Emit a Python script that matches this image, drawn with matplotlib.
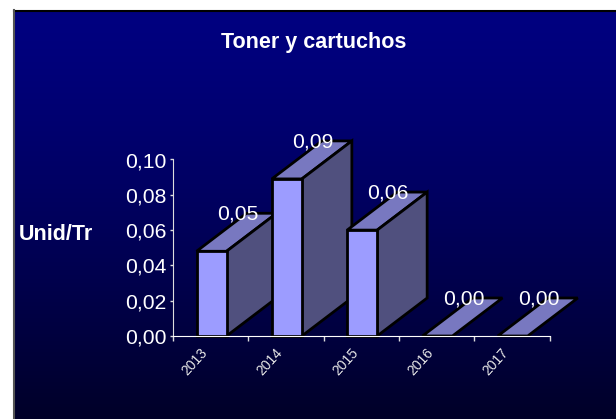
import numpy as np
import matplotlib
matplotlib.use('Agg')
import matplotlib.pyplot as plt
from matplotlib.patches import Polygon

plt.rcParams['font.family'] = ['Liberation Sans', 'DejaVu Sans']

# Data
years = ['2013', '2014', '2015', '2016', '2017']
heights = [0.048, 0.089, 0.06, 0.0, 0.0]
labels = ['0,05', '0,09', '0,06', '0,00', '0,00']
yticks = [0.0, 0.02, 0.04, 0.06, 0.08, 0.10]

W, H = 616, 419
fig = plt.figure(figsize=(W / 100, H / 100), dpi=100, facecolor='white')

# slide background: gradient running off the right and bottom edges
bg = fig.add_axes([0, 0, 1, 1], zorder=0)
bg.axis('off')
grad = np.linspace(0, 1, 256).reshape(-1, 1)
colors = np.zeros((256, 1, 3))
colors[:, :, 2] = (128 - 88 * grad ** 1.3) / 255
bg.imshow(colors, extent=(14, W, H, 11), aspect='auto', interpolation='bilinear')
bg.set_xlim(0, W)
bg.set_ylim(H, 0)
bg.plot([14, W], [11, 11], color='black', lw=1.5)
bg.plot([14, 14], [10.5, H], color='#555555', lw=1.5)

# chart axes placed on the pixel position of the plot
x0, x1, ytop, ybot = 173, 549.5, 159.5, 336
ax = fig.add_axes([x0 / W, 1 - ybot / H, (x1 - x0) / W, (ybot - ytop) / H], zorder=1)
ax.patch.set_alpha(0)
ax.set_xlim(0, 5)
ax.set_ylim(0, 0.10)

bar_w = 30 / 75.3
depth_x = 50 / 75.3
depth_y = 38 / 176.5 * 0.10

# draw the 3D boxes back to front so each bar overlaps the one before
for i, (h, lab) in enumerate(zip(heights, labels)):
    left = i + 0.5 - bar_w / 2 + 0.012
    right = left + bar_w
    style = dict(edgecolor='black', lw=2, joinstyle='miter', clip_on=False, zorder=3 + i)
    ax.add_patch(Polygon([(left, h), (right, h), (right + depth_x, h + depth_y), (left + depth_x, h + depth_y)],
                         facecolor='#7878c0', **style))
    if h > 0:
        ax.add_patch(Polygon([(right, 0), (right + depth_x, depth_y), (right + depth_x, h + depth_y), (right, h)],
                             facecolor='#50507e', **style))
        ax.add_patch(Polygon([(left, 0), (right, 0), (right, h), (left, h)],
                             facecolor='#9c9cff', **style))
    ax.text(i + 0.857, h + depth_y - 0.0004, lab, color='white', fontsize=15.2, ha='center', va='center', zorder=20, clip_on=False)

ax.set_xticks(range(6))
ax.set_xticklabels([])
ax.set_yticks(yticks)
ax.set_yticklabels([f'{v:.2f}'.replace('.', ',') for v in yticks], color='white', fontsize=15.2)
ax.tick_params(axis='y', color='#dddddd', length=2.5, width=1, pad=2)
ax.tick_params(axis='x', color='#dddddd', length=3.5, width=1)
for s in ['top', 'right']:
    ax.spines[s].set_visible(False)
ax.spines['left'].set_color('#dddddd')
ax.spines['bottom'].set_color('white')
ax.spines['bottom'].set_zorder(30)

for i, y in enumerate(years):
    ax.text(i + 0.29, -0.0147, y, color='#e8e8e8', fontsize=10, rotation=48, ha='center', va='center', clip_on=False)

fig.text(313.5 / W, 1 - 42.5 / H, 'Toner y cartuchos', color='white', fontsize=15.5, fontweight='bold', ha='center', va='center')
fig.text(56 / W, 1 - 234 / H, 'Unid/Tr', color='white', fontsize=15.5, fontweight='bold', ha='center', va='center')

fig.savefig('out.png', dpi=100, facecolor='white')
